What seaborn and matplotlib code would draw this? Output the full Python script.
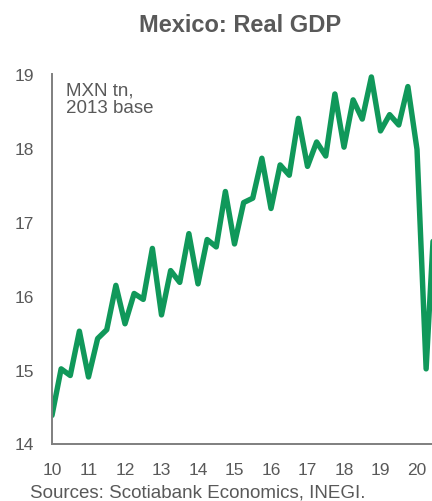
import matplotlib
matplotlib.use("Agg")
import matplotlib.pyplot as plt
import numpy as np
import pandas as pd
import seaborn as sns

# Quarterly real GDP, MXN trillions (2013 prices), 2010Q1 - 2020Q3
gdp_2010 = [14.38, 15.01, 14.92, 15.52]
gdp_2011 = [14.90, 15.42, 15.54, 16.14]
gdp_2012 = [15.62, 16.03, 15.95, 16.64]
gdp_2013 = [15.74, 16.34, 16.18, 16.84]
gdp_2014 = [16.16, 16.76, 16.66, 17.41]
gdp_2015 = [16.70, 17.26, 17.32, 17.86]
gdp_2016 = [17.18, 17.77, 17.63, 18.40]
gdp_2017 = [17.75, 18.08, 17.89, 18.73]
gdp_2018 = [18.01, 18.65, 18.39, 18.96]
gdp_2019 = [18.23, 18.45, 18.31, 18.83]
gdp_2020 = [17.98, 15.01, 17.30]

start_year = 2010
year_ticks = list(range(2010, 2021))
year_labels = [f"{y % 100:02d}" for y in year_ticks]
y_ticks = [14, 15, 16, 17, 18, 19]

values = (gdp_2010 + gdp_2011 + gdp_2012 + gdp_2013 + gdp_2014 + gdp_2015
          + gdp_2016 + gdp_2017 + gdp_2018 + gdp_2019 + gdp_2020)
df = pd.DataFrame({
    "t": start_year + np.arange(len(values)) / 4.0,
    "gdp": values,
})

sns.set_style("white")
plt.rcParams["font.family"] = ["Liberation Sans", "DejaVu Sans"]

GREY = "#595959"
AXIS = "#7f7f7f"
GREEN = "#10985A"

fig = plt.figure(figsize=(4.32, 5.02), dpi=100)
# axes runs past the right edge of the figure; the last year is cut off
left = 52 / 432
bottom = (502 - 444.5) / 502
height = 369.5 / 502
width = 11 * 36.5 / 432
ax = fig.add_axes([left, bottom, width, height])

sns.lineplot(data=df, x="t", y="gdp", ax=ax, color=GREEN, linewidth=3.9,
             solid_joinstyle="round", solid_capstyle="round")

ax.set_xlim(2010, 2021)
ax.set_ylim(14, 19)
ax.set_xticks(year_ticks)
ax.set_xticklabels(year_labels)
ax.set_yticks(y_ticks)
ax.set_xlabel("")
ax.set_ylabel("")

for side in ("top", "right"):
    ax.spines[side].set_visible(False)
for side in ("left", "bottom"):
    ax.spines[side].set_color(AXIS)
    ax.spines[side].set_linewidth(1.4)

ax.tick_params(axis="both", direction="in", length=5, width=1.2,
               color=AXIS, labelcolor=GREY, labelsize=12.5)
ax.tick_params(axis="y", pad=13)
ax.tick_params(axis="x", pad=13)

ax.text(0.035, 0.98, "MXN tn,\n2013 base", transform=ax.transAxes,
        ha="left", va="top", fontsize=13.5, color=GREY, linespacing=1.05)

fig.text(240 / 432, 1 - 26 / 502, "Mexico: Real GDP", ha="center",
         va="center", fontsize=17, fontweight="bold", color=GREY)
fig.text(30 / 432, 1 - 493 / 502, "Sources: Scotiabank Economics, INEGI.",
         ha="left", va="center", fontsize=13.5, color=GREY)

fig.savefig("out.png", dpi=100)
